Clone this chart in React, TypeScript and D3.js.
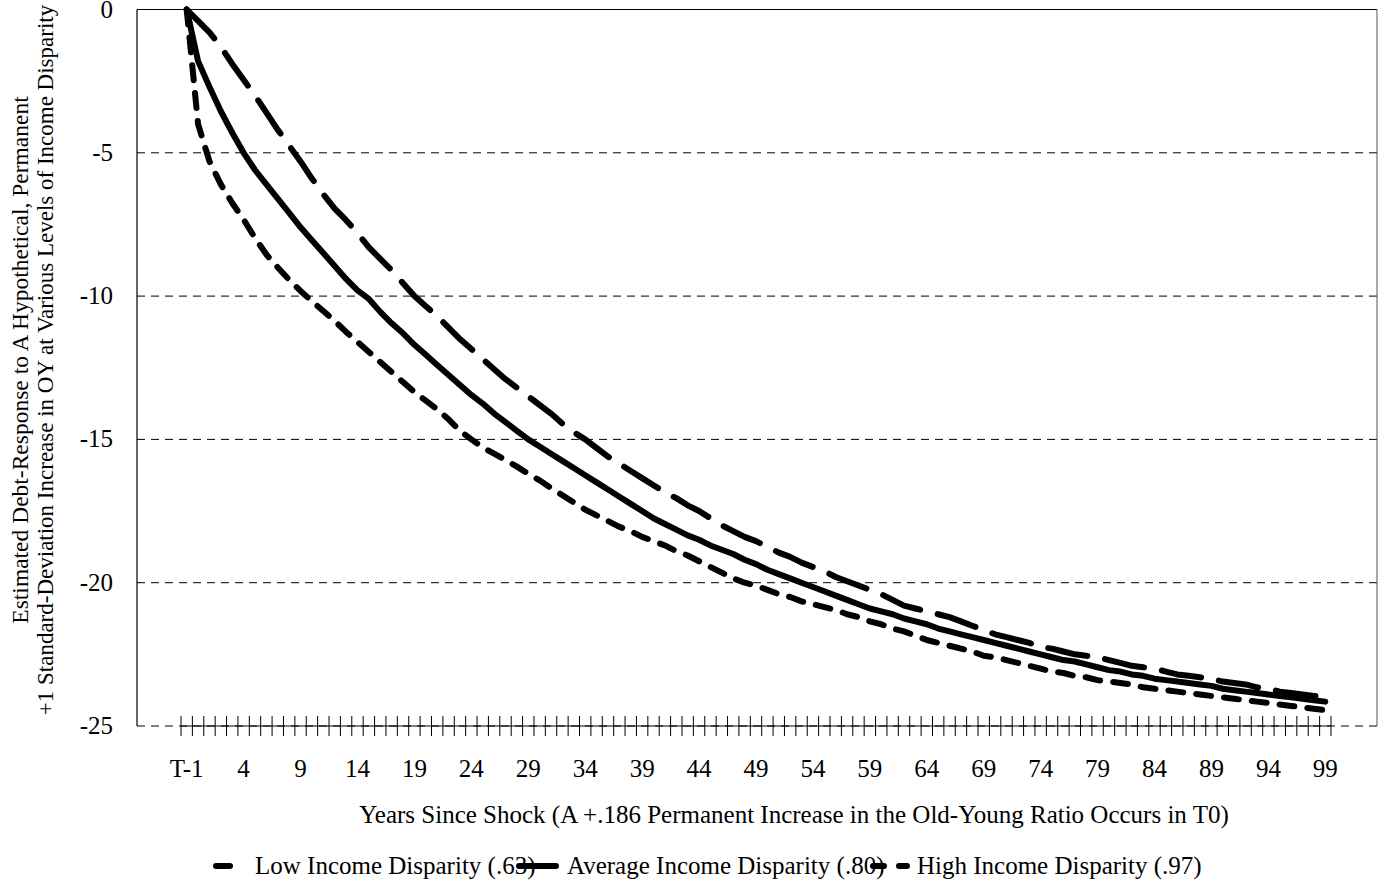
import React from "react";
import * as d3 from "d3";

const categories: string[] = ["T-1", "T0", ...d3.range(1, 100).map((k) => String(k))];
const xTickLabels = ["T-1", "4", "9", "14", "19", "24", "29", "34", "39", "44", "49", "54", "59", "64", "69", "74", "79", "84", "89", "94", "99"];
const yTicks = [0, -5, -10, -15, -20, -25];

const lowValues = [
  0, -0.4, -0.8, -1.3, -1.9, -2.45, -3.0, -3.6, -4.2, -4.75,
  -5.3, -5.9, -6.45, -6.95, -7.35, -7.8, -8.3, -8.7, -9.1, -9.55,
  -10.0, -10.35, -10.7, -11.1, -11.5, -11.85, -12.2, -12.55, -12.9, -13.2,
  -13.5, -13.8, -14.1, -14.45, -14.75, -15.0, -15.3, -15.6, -15.85, -16.1,
  -16.35, -16.6, -16.85, -17.05, -17.3, -17.5, -17.75, -18.0, -18.2, -18.4,
  -18.55, -18.75, -18.95, -19.1, -19.3, -19.45, -19.6, -19.8, -19.95, -20.1,
  -20.25, -20.4, -20.6, -20.8, -20.9, -21.0, -21.1, -21.2, -21.35, -21.5,
  -21.65, -21.8, -21.9, -22.0, -22.1, -22.25, -22.3, -22.4, -22.5, -22.55,
  -22.6, -22.7, -22.8, -22.9, -22.95, -23.0, -23.1, -23.2, -23.25, -23.3,
  -23.35, -23.45, -23.5, -23.55, -23.65, -23.7, -23.8, -23.85, -23.9, -23.95,
  -24.0,
];

const averageValues = [
  0, -1.8, -2.7, -3.55, -4.3, -5.0, -5.6, -6.1, -6.6, -7.1,
  -7.6, -8.05, -8.5, -8.95, -9.4, -9.8, -10.1, -10.55, -10.95, -11.3,
  -11.7, -12.05, -12.4, -12.75, -13.1, -13.45, -13.75, -14.1, -14.4, -14.7,
  -15.0, -15.25, -15.5, -15.75, -16.0, -16.25, -16.5, -16.75, -17.0, -17.25,
  -17.5, -17.75, -17.95, -18.15, -18.35, -18.5, -18.7, -18.85, -19.0, -19.2,
  -19.35, -19.55, -19.7, -19.85, -20.0, -20.15, -20.3, -20.45, -20.6, -20.75,
  -20.9, -21.0, -21.1, -21.25, -21.35, -21.45, -21.6, -21.7, -21.8, -21.9,
  -22.0, -22.1, -22.2, -22.3, -22.4, -22.5, -22.6, -22.7, -22.75, -22.85,
  -22.95, -23.05, -23.1, -23.2, -23.25, -23.35, -23.4, -23.45, -23.5, -23.55,
  -23.6, -23.7, -23.75, -23.8, -23.85, -23.9, -23.95, -24.0, -24.05, -24.1,
  -24.15,
];

const highValues = [
  0, -4.0, -5.3, -6.1, -6.75, -7.33, -7.97, -8.55, -9.0, -9.43,
  -9.82, -10.18, -10.52, -10.87, -11.25, -11.6, -11.95, -12.3, -12.65, -13.0,
  -13.35, -13.65, -13.95, -14.3, -14.7, -15.0, -15.28, -15.5, -15.72, -15.95,
  -16.2, -16.43, -16.7, -16.95, -17.2, -17.45, -17.65, -17.85, -18.05, -18.2,
  -18.4, -18.55, -18.7, -18.9, -19.05, -19.25, -19.45, -19.65, -19.85, -20.0,
  -20.1, -20.25, -20.4, -20.5, -20.65, -20.75, -20.85, -20.95, -21.1, -21.2,
  -21.35, -21.45, -21.6, -21.7, -21.85, -22.0, -22.1, -22.2, -22.3, -22.4,
  -22.55, -22.6, -22.7, -22.8, -22.9, -23.0, -23.1, -23.15, -23.25, -23.3,
  -23.4, -23.45, -23.5, -23.55, -23.65, -23.7, -23.75, -23.8, -23.85, -23.9,
  -23.95, -24.0, -24.05, -24.1, -24.15, -24.2, -24.25, -24.3, -24.35, -24.4,
  -24.45,
];

const seriesNames = ["Low Income Disparity (.63)", "Average Income Disparity (.80)", "High Income Disparity (.97)"];
const seriesValues = [lowValues, averageValues, highValues];
const seriesDash = ["40,18", "none", "15,13"];

const W = 1384;
const H = 888;
const plotLeft = 137;
const plotRight = 1377;
const plotTop = 9.5;
const plotBottom = 726;
const axisLeft = 181;
const axisRight = 1331;
const FONT = "'Liberation Serif', 'Times New Roman', Times, serif";
const FS = 25;

export default function App() {
  const x = d3.scaleBand<string>().domain(categories).range([axisLeft, axisRight]).padding(0);
  const y = d3.scaleLinear().domain([-25, 0]).range([plotBottom, plotTop]);
  const cx = (c: string) => (x(c) as number) + x.bandwidth() / 2;
  const line = d3
    .line<number>()
    .x((_, i) => cx(categories[i]))
    .y((v) => y(v));

  const tickPositions = [...categories.map((c) => x(c) as number), axisRight];

  const legendY = 866;
  const legendItems = [
    { key: [216, 230], dash: undefined as string | undefined, text: 255 },
    { key: [519, 556], dash: undefined as string | undefined, text: 567 },
    { key: [873, 907], dash: "11,15" as string | undefined, text: 917 },
  ];

  return (
    <div style={{ position: "absolute", left: 0, top: 0 }}>
      <svg width={W} height={H} style={{ display: "block", background: "#fff" }} fontFamily={FONT}>
        <rect x={0} y={0} width={W} height={H} fill="#fff" />
        {/* gridlines */}
        {yTicks.map((t) => (
          <line
            key={"g" + t}
            x1={plotLeft}
            x2={plotRight}
            y1={y(t)}
            y2={y(t)}
            stroke="#000"
            strokeWidth={1}
            strokeDasharray="8,6"
          />
        ))}
        {/* plot frame */}
        <line x1={plotLeft} x2={plotRight} y1={plotTop} y2={plotTop} stroke="#000" strokeWidth={1.2} />
        <line x1={plotLeft} x2={plotLeft} y1={plotTop} y2={plotBottom} stroke="#000" strokeWidth={1.2} />
        <line x1={plotRight} x2={plotRight} y1={plotTop} y2={plotBottom} stroke="#555" strokeWidth={1} />
        {/* category axis */}
        <line x1={axisLeft} x2={axisRight} y1={plotBottom} y2={plotBottom} stroke="#000" strokeWidth={1} />
        {tickPositions.map((p, i) => (
          <line key={"t" + i} x1={p} x2={p} y1={plotBottom - 10} y2={plotBottom + 10} stroke="#000" strokeWidth={1} />
        ))}
        {/* y tick labels */}
        {yTicks.map((t) => (
          <text key={"yl" + t} x={113} y={y(t) + 8} textAnchor="end" fontSize={FS} fill="#000">
            {t}
          </text>
        ))}
        {/* x tick labels */}
        {xTickLabels.map((l) => (
          <text key={"xl" + l} x={cx(l)} y={777} textAnchor="middle" fontSize={FS} fill="#000">
            {l}
          </text>
        ))}
        {/* axis titles */}
        <text x={794} y={823} textAnchor="middle" fontSize={FS} fill="#000">
          Years Since Shock (A +.186 Permanent Increase in the Old-Young Ratio Occurs in T0)
        </text>
        <g transform={`translate(28, 364) rotate(-90)`}>
          <text x={4} y={0} textAnchor="middle" fontSize={23.5} fill="#000">
            Estimated Debt-Response to A Hypothetical, Permanent
          </text>
          <text x={4} y={25} textAnchor="middle" fontSize={23} fill="#000">
            +1 Standard-Deviation Increase in OY at Various Levels of Income Disparity
          </text>
        </g>
        {/* series */}
        {seriesValues.map((vals, s) => (
          <path
            key={"s" + s}
            d={line(vals) || ""}
            fill="none"
            stroke="#000"
            strokeWidth={6}
            strokeLinecap="round"
            strokeLinejoin="round"
            strokeDasharray={seriesDash[s] === "none" ? undefined : seriesDash[s]}
          />
        ))}
        {/* legend */}
        {legendItems.map((it, s) => (
          <g key={"lg" + s}>
            <text x={it.text} y={legendY + 8} fontSize={FS} fill="#000">
              {seriesNames[s]}
            </text>
            <line
              x1={it.key[0]}
              x2={it.key[1]}
              y1={legendY}
              y2={legendY}
              stroke="#000"
              strokeWidth={6}
              strokeLinecap="round"
              strokeDasharray={it.dash}
            />
          </g>
        ))}
      </svg>
    </div>
  );
}
